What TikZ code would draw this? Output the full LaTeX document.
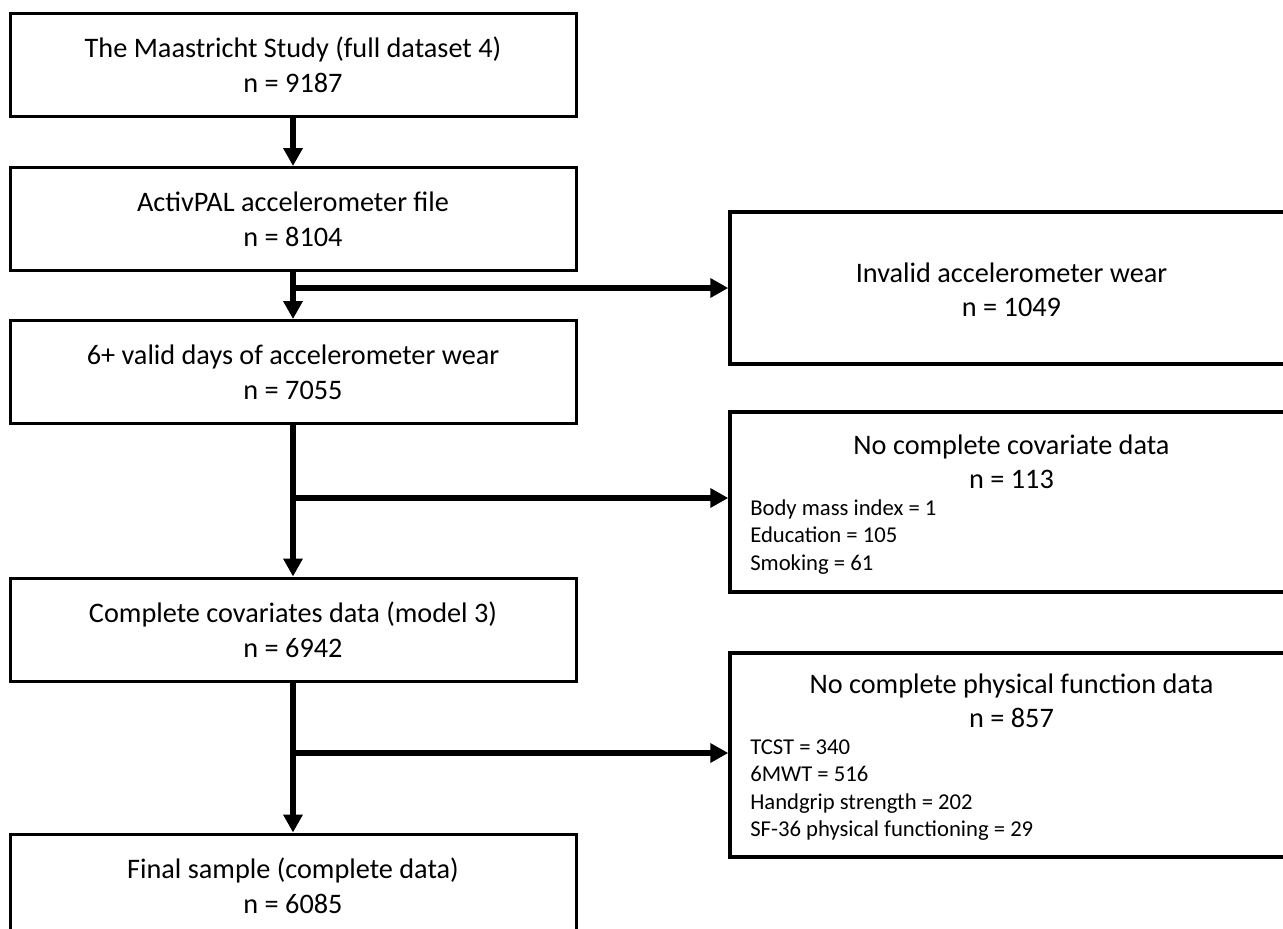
\documentclass[tikz,border=0pt]{standalone}
\usepackage{fontspec}
\setmainfont{Carlito}
\usetikzlibrary{arrows.meta}
\begin{document}
\begin{tikzpicture}[x=0.75pt,y=-0.75pt,
  mainbox/.style={draw, line width=2.25pt, minimum width=424.5pt, minimum height=77.25pt,
    inner sep=0pt, align=center, font=\fontsize{21.2pt}{26.25pt}\selectfont},
  sidebox/.style={draw, line width=2.6pt, minimum width=450pt, inner sep=0pt},
  titletxt/.style={align=center, inner sep=0pt, font=\fontsize{21.2pt}{25.5pt}\selectfont},
  listtxt/.style={align=left, inner sep=0pt, anchor=west, font=\fontsize{17pt}{20.5pt}\selectfont},
  arr/.style={line width=4.5pt, -{Triangle[length=13.5pt,width=14pt]}}
]
\useasboundingbox (0,0) rectangle (1283,929);
\clip (0,0) rectangle (1283,929);

\node[mainbox] (b1) at (293,64.5) {The Maastricht Study (full dataset 4)\\n = 9187};
\node[mainbox] (b2) at (293,219) {ActivPAL accelerometer file\\n = 8104};
\node[mainbox] (b3) at (293,372) {6+ valid days of accelerometer wear\\n = 7055};
\node[mainbox] (b4) at (293,629.5) {Complete covariates data (model 3)\\n = 6942};
\node[mainbox] (b5) at (293,885.5) {Final sample (complete data)\\n = 6085};

\node[sidebox, minimum height=114pt] (inv) at (1030,288) {};
\node[titletxt] (invt) at (1011.5,289.5) {Invalid accelerometer wear\\n = 1049};
\node[sidebox, minimum height=135pt] (cov) at (1030,502) {};
\node[titletxt] (covt) at (1011.5,461.5) {No complete covariate data\\n = 113};
\node[listtxt] (covl) at (750,537) {Body mass index = 1\\Education = 105\\Smoking = 61};
\node[sidebox, minimum height=153pt] (phys) at (1030,755) {};
\node[titletxt] (physt) at (1011.5,701) {No complete physical function data\\n = 857};
\node[listtxt] (physl) at (750,790) {TCST = 340\\6MWT = 516\\Handgrip strength = 202\\SF-36 physical functioning = 29};

\coordinate (j1) at (b2.south |- inv.west);
\coordinate (j2) at (293,498);
\coordinate (j3) at (293,753);

\draw[arr] (b1) -- (b2);
\draw[arr] (b2) -- (b3);
\draw[arr] (j1) -- (inv.west);
\draw[arr] (b3) -- (b4);
\draw[arr] (j2) -- (j2 -| cov.west);
\draw[arr] (b4) -- (b5);
\draw[arr] (j3) -- (j3 -| phys.west);
\end{tikzpicture}
\end{document}
